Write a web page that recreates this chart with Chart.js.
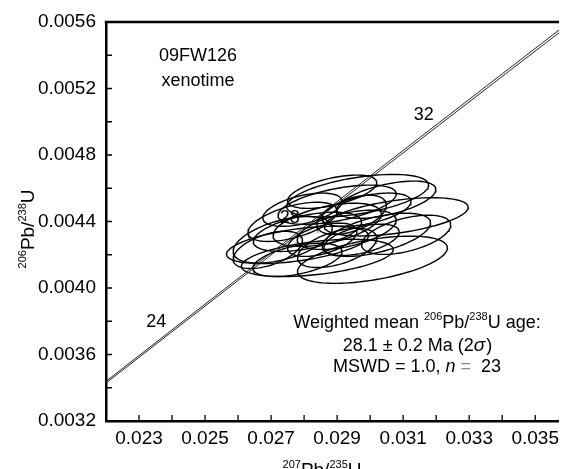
<!DOCTYPE html>
<html>
<head>
<meta charset="utf-8">
<script src="https://cdn.jsdelivr.net/npm/chart.js@4"></script>
<style>
html, body { margin: 0; padding: 0; background: #fff; overflow: hidden; }
</style>
</head>
<body>
<canvas id="concordia" width="565" height="469"></canvas>
<script>
// spot analyses: 207Pb/235U and 206Pb/238U with 2 sigma errors, error correlation
var ratio75 = [0.02780, 0.02840, 0.03007, 0.03079, 0.02962, 0.02900, 0.02870, 0.02810, 0.02929, 0.02765, 0.02989, 0.02735,
               0.02900, 0.03019, 0.03049, 0.02795, 0.02944, 0.02855, 0.03109, 0.02690, 0.02885, 0.02974, 0.02780];
var err75 = [0.00215, 0.00230, 0.00227, 0.00218, 0.00215, 0.00179, 0.00164, 0.00164, 0.00150, 0.00135, 0.00135, 0.00150,
             0.00120, 0.00164, 0.00150, 0.00120, 0.00105, 0.00105, 0.00135, 0.00105, 0.00135, 0.00114, 0.00135];
var ratio68 = [0.004259, 0.004181, 0.004170, 0.004428, 0.004555, 0.004501, 0.004380, 0.004338, 0.004350, 0.004398, 0.004471, 0.004290,
               0.004241, 0.004320, 0.004531, 0.004471, 0.004440, 0.004290, 0.004320, 0.004229, 0.004579, 0.004290, 0.004169];
var err68 = [0.000112, 0.000112, 0.000142, 0.000115, 0.000128, 0.000118, 0.000130, 0.000118, 0.000118, 0.000118, 0.000100, 0.000140,
             0.000118, 0.000130, 0.000112, 0.000100, 0.000118, 0.000100, 0.000118, 0.000112, 0.000100, 0.000094, 0.000100];
var rho = [0.50, 0.45, 0.50, 0.50, 0.50, 0.55, 0.50, 0.50, 0.50, 0.55, 0.50, 0.50,
           0.50, 0.55, 0.55, 0.50, 0.50, 0.50, 0.50, 0.50, 0.55, 0.50, 0.50];

// concordia curve (ages in Ma) and labelled ages
var concordiaAges = [20, 22, 24, 26, 28, 30, 32, 34, 36, 38];
var ageLabels = [24, 28, 32];

var xTicks = [0.023, 0.025, 0.027, 0.029, 0.031, 0.033, 0.035];
var yTicks = [0.0032, 0.0036, 0.0040, 0.0044, 0.0048, 0.0052, 0.0056];
var xMinorTicks = [0.023, 0.024, 0.025, 0.026, 0.027, 0.028, 0.029, 0.030, 0.031, 0.032, 0.033, 0.034, 0.035];
var yMinorTicks = [0.0034, 0.0036, 0.0038, 0.0040, 0.0042, 0.0044, 0.0046, 0.0048, 0.0050, 0.0052, 0.0054];

var lambda238 = 1.55125e-4; // per Ma
var lambda235 = 9.8485e-4;
var lambdaErr = 0.0015;

var fontFam = "'Liberation Sans', Arial, sans-serif";

function concordiaPoint(t, f) {
    return { x: Math.exp(lambda235 * f * t) - 1, y: Math.exp(lambda238 * t) - 1 };
}

function ellipse(i) {
    var pts = [];
    var s = Math.sqrt(1 - rho[i] * rho[i]);
    for (var k = 0; k <= 90; k++) {
        var a = 2 * Math.PI * k / 90;
        pts.push({
            x: ratio75[i] + err75[i] * Math.cos(a),
            y: ratio68[i] + err68[i] * (rho[i] * Math.cos(a) + s * Math.sin(a))
        });
    }
    return pts;
}

var datasets = [];
[1 - lambdaErr, 1 + lambdaErr].forEach(function (f) {
    datasets.push({
        data: concordiaAges.map(function (t) { return concordiaPoint(t, f); }),
        showLine: true, pointRadius: 0, borderColor: '#222', borderWidth: 1, tension: 0
    });
});
for (var i = 0; i < ratio75.length; i++) {
    datasets.push({
        data: ellipse(i),
        showLine: true, pointRadius: 0, borderColor: '#000', borderWidth: 1.4, tension: 0
    });
}

function supText(ctx, parts, x, y, align) {
    // parts: [text, isSup]
    var w = 0;
    parts.forEach(function (p) {
        ctx.font = p[1] ? '11px ' + fontFam : '19px ' + fontFam;
        w += ctx.measureText(p[0]).width;
    });
    var cx = align === 'center' ? x - w / 2 : x;
    parts.forEach(function (p) {
        ctx.font = p[1] ? '11px ' + fontFam : '19px ' + fontFam;
        ctx.fillText(p[0], cx, p[1] ? y - 8 : y);
        cx += ctx.measureText(p[0]).width;
    });
}

var decorations = {
    id: 'decorations',
    afterDraw: function (chart) {
        var ctx = chart.ctx, area = chart.chartArea;
        var xs = chart.scales.x, ys = chart.scales.y;
        ctx.save();
        ctx.strokeStyle = '#000';
        ctx.lineWidth = 1.3;
        ctx.beginPath();
        xMinorTicks.forEach(function (v) {
            var px = xs.getPixelForValue(v);
            ctx.moveTo(px, area.bottom);
            ctx.lineTo(px, area.bottom - 6);
        });
        yMinorTicks.forEach(function (v) {
            var py = ys.getPixelForValue(v);
            ctx.moveTo(area.left, py);
            ctx.lineTo(area.left + 6, py);
        });
        ctx.stroke();
        // top frame line
        ctx.lineWidth = 2.5;
        ctx.beginPath();
        ctx.moveTo(area.left - 1.25, area.top);
        ctx.lineTo(area.right, area.top);
        ctx.stroke();

        ctx.fillStyle = '#000';
        ctx.textBaseline = 'alphabetic';
        ctx.textAlign = 'left';
        // axis titles
        supText(ctx, [['207', true], ['Pb/', false], ['235', true], ['U', false]], 322, 476, 'center');
        ctx.save();
        ctx.translate(34, 229);
        ctx.rotate(-Math.PI / 2);
        supText(ctx, [['206', true], ['Pb/', false], ['238', true], ['U', false]], 0, 0, 'center');
        ctx.restore();

        // sample name
        ctx.textAlign = 'center';
        ctx.font = '18px ' + fontFam;
        ctx.fillText('09FW126', 198, 61);
        ctx.fillText('xenotime', 198, 86);

        // concordia age labels
        ageLabels.forEach(function (t) {
            var p = concordiaPoint(t, 1);
            ctx.fillText(String(t), xs.getPixelForValue(p.x) - 13, ys.getPixelForValue(p.y) - 6);
        });

        // result box
        ctx.textAlign = 'left';
        ctx.font = '18px ' + fontFam;
        var parts1 = [['Weighted mean ', false], ['206', true], ['Pb/', false], ['238', true], ['U age:', false]];
        var w1 = 0;
        parts1.forEach(function (p) { ctx.font = (p[1] ? '11px ' : '18px ') + fontFam; w1 += ctx.measureText(p[0]).width; });
        var x1 = 417 - w1 / 2;
        parts1.forEach(function (p) {
            ctx.font = (p[1] ? '11px ' : '18px ') + fontFam;
            ctx.fillText(p[0], x1, p[1] ? 320 : 328);
            x1 += ctx.measureText(p[0]).width;
        });

        var l2a = '28.1 \u00b1 0.2 Ma (2', l2b = '\u03c3', l2c = ')';
        ctx.font = '18px ' + fontFam;
        var wa = ctx.measureText(l2a).width, wc = ctx.measureText(l2c).width;
        ctx.font = 'italic 19px ' + fontFam;
        var wb = ctx.measureText(l2b).width;
        var sx = 417 - (wa + wb + wc) / 2;
        ctx.font = '18px ' + fontFam;
        ctx.fillText(l2a, sx, 351);
        ctx.font = 'italic 19px ' + fontFam;
        ctx.fillText(l2b, sx + wa, 351);
        ctx.font = '18px ' + fontFam;
        ctx.fillText(l2c, sx + wa + wb + 1, 351);

        var l3a = 'MSWD = 1.0, ', l3b = 'n', l3c = ' = ', l3d = ' 23';
        ctx.font = '18px ' + fontFam;
        var w3a = ctx.measureText(l3a).width, w3c = ctx.measureText(l3c).width, w3d = ctx.measureText(l3d).width;
        ctx.font = 'italic 18px ' + fontFam;
        var w3b = ctx.measureText(l3b).width;
        var s3 = 417 - (w3a + w3b + w3c + w3d) / 2;
        ctx.font = '18px ' + fontFam;
        ctx.fillText(l3a, s3, 372);
        ctx.font = 'italic 18px ' + fontFam;
        ctx.fillText(l3b, s3 + w3a, 372);
        ctx.font = '18px ' + fontFam;
        ctx.fillStyle = '#888';
        ctx.fillText(l3c, s3 + w3a + w3b, 372);
        ctx.fillStyle = '#000';
        ctx.fillText(l3d, s3 + w3a + w3b + w3c, 372);
        ctx.restore();
    }
};

var chart = new Chart(document.getElementById('concordia').getContext('2d'), {
    type: 'scatter',
    data: { datasets: datasets },
    options: {
        responsive: false,
        animation: false,
        layout: { padding: { top: 22, right: 0, left: 0, bottom: 0 } },
        scales: {
            x: {
                type: 'linear',
                min: 0.022,
                max: 0.03572,
                afterBuildTicks: function (scale) {
                    scale.ticks = xTicks.map(function (v) { return { value: v }; });
                },
                afterFit: function (scale) { scale.height = 48; },
                grid: { display: false, drawTicks: false },
                border: { display: true, color: '#000', width: 2.5 },
                ticks: {
                    color: '#000', padding: 6, maxRotation: 0,
                    font: { family: fontFam, size: 19 },
                    callback: function (v) { return v.toFixed(3); }
                }
            },
            y: {
                type: 'linear',
                min: 0.0032,
                max: 0.0056,
                afterBuildTicks: function (scale) {
                    scale.ticks = yTicks.map(function (v) { return { value: v }; });
                },
                afterFit: function (scale) { scale.width = 106; },
                grid: { display: false, drawTicks: false },
                border: { display: true, color: '#000', width: 2.5 },
                ticks: {
                    color: '#000', padding: 10,
                    font: { family: fontFam, size: 19 },
                    callback: function (v) { return v.toFixed(4); }
                }
            }
        },
        plugins: {
            legend: { display: false },
            tooltip: { enabled: false }
        }
    },
    plugins: [decorations]
});
</script>
</body>
</html>
